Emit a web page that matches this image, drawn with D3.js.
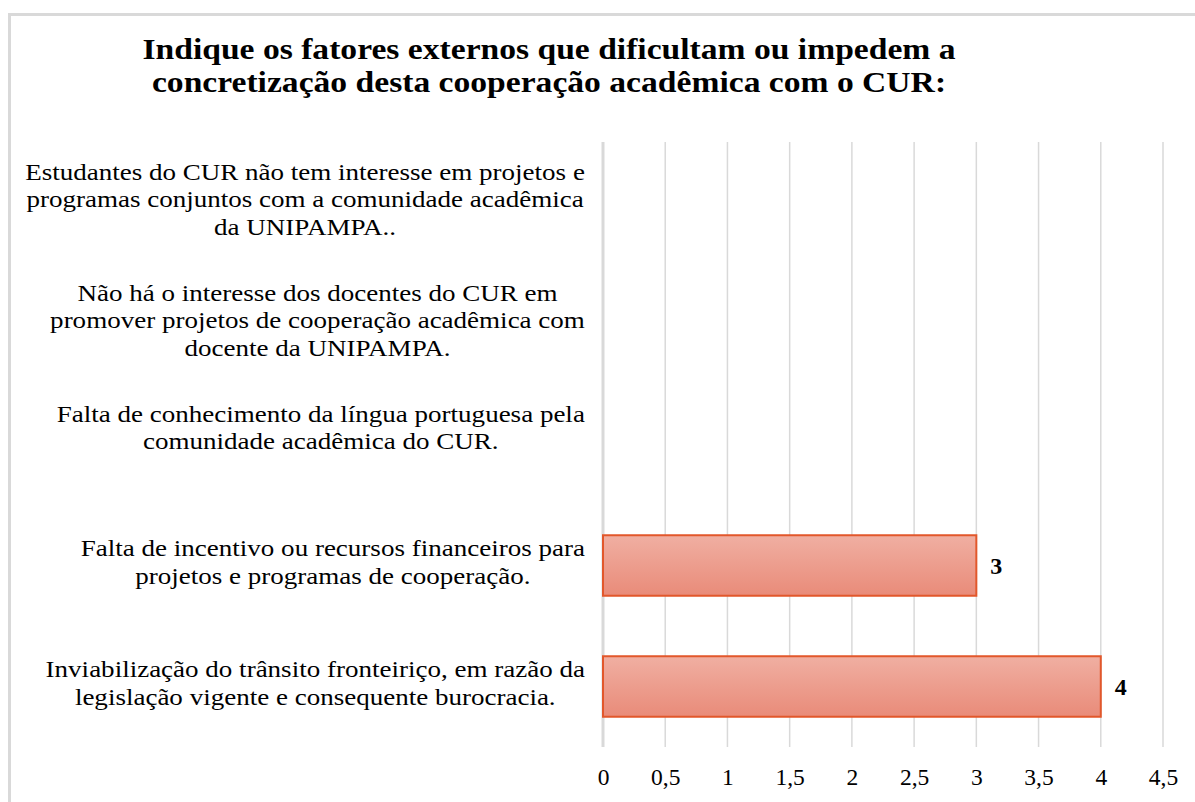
<!DOCTYPE html>
<html>
<head>
<meta charset="utf-8">
<script src="https://cdn.jsdelivr.net/npm/d3@7"></script>
<style>
  body { margin: 0; background: #fff; }
  svg { display: block; font-family: "Liberation Serif", "Times New Roman", serif; }
</style>
</head>
<body>
<div id="chart"></div>
<script>
// chart data
const titleLines = [
  'Indique os fatores externos que dificultam ou impedem a',
  'concretização desta cooperação acadêmica com o CUR:'
];
const categories = [
  ['Estudantes do CUR não tem interesse em projetos e', 'programas conjuntos com a comunidade acadêmica', 'da UNIPAMPA..'],
  ['Não há o interesse dos docentes do CUR em', 'promover projetos de cooperação acadêmica com', 'docente da UNIPAMPA.'],
  ['Falta de conhecimento da língua portuguesa pela', 'comunidade acadêmica do CUR.', ''],
  ['Falta de incentivo ou recursos financeiros para', 'projetos e programas de cooperação.'],
  ['Inviabilização do trânsito fronteiriço, em razão da', 'legislação vigente e consequente burocracia.']
];
const values = [null, null, null, 3, 4];
const xTicks = [0, 0.5, 1, 1.5, 2, 2.5, 3, 3.5, 4, 4.5];

const W = 1195, H = 802;
const plot = {left: 603, right: 1163, top: 142, bottom: 747};
const labelRight = 585;
const lineH = 27.5;
const labelStretch = 1.15;
const serif = '"Liberation Serif", "Times New Roman", serif';

const svg = d3.select('#chart').append('svg')
  .attr('width', W)
  .attr('height', H);

// outer frame (runs off the right and bottom)
svg.append('rect')
  .attr('x', 9.5).attr('y', 14.5)
  .attr('width', W + 20).attr('height', H + 20)
  .attr('fill', '#fff')
  .attr('stroke', '#d9d9d9')
  .attr('stroke-width', 3);

const defs = svg.append('defs');
const grad = defs.append('linearGradient')
  .attr('id', 'barGrad')
  .attr('x1', 0).attr('y1', 0).attr('x2', 0).attr('y2', 1);
grad.append('stop').attr('offset', '0%').attr('stop-color', '#f0afa2');
grad.append('stop').attr('offset', '100%').attr('stop-color', '#e98b79');

const ids = categories.map((c, i) => i);

const xScale = d3.scaleLinear()
  .domain([0, 4.5])
  .range([plot.left, plot.right]);

const yScale = d3.scaleBand()
  .domain(ids)
  .range([plot.top, plot.bottom])
  .paddingInner(0.5)
  .paddingOuter(0.25);

const fmt = d3.formatLocale({decimal: ',', thousands: '.', grouping: [3], currency: ['', '']}).format('~f');

// title (the original glyphs are a little wider than Liberation Serif)
svg.append('text')
  .attr('class', 'title')
  .attr('transform', 'translate(549,0) scale(1.12,1)')
  .attr('text-anchor', 'middle')
  .attr('font-weight', 'bold')
  .attr('font-size', 30)
  .selectAll('tspan')
  .data(titleLines)
  .join('tspan')
  .attr('x', 0)
  .attr('y', (d, i) => 59 + i * 33)
  .text(d => d);

// gridlines
svg.append('g')
  .attr('class', 'grid')
  .selectAll('line')
  .data(xTicks)
  .join('line')
  .attr('x1', d => xScale(d)).attr('x2', d => xScale(d))
  .attr('y1', plot.top).attr('y2', plot.bottom)
  .attr('stroke', '#d9d9d9')
  .attr('stroke-width', d => d === 0 ? 3 : 1.5);

// x axis labels
const xAxis = d3.axisBottom(xScale)
  .tickValues(xTicks)
  .tickSize(0)
  .tickPadding(0)
  .tickFormat(fmt);

svg.append('g')
  .attr('class', 'axis x')
  .attr('transform', `translate(0,${plot.bottom + 30})`)
  .call(xAxis)
  .call(g => g.select('.domain').remove())
  .call(g => g.selectAll('text')
    .attr('dy', '0.35em')
    .attr('fill', '#000')
    .attr('font-size', 23.5)
    .attr('font-family', serif));

// bars
const data = ids.map(i => ({id: i, value: values[i]})).filter(d => d.value != null);

svg.append('g')
  .attr('class', 'bars')
  .selectAll('rect')
  .data(data)
  .join('rect')
  .attr('x', xScale(0))
  .attr('y', d => yScale(d.id))
  .attr('width', d => xScale(d.value) - xScale(0))
  .attr('height', yScale.bandwidth())
  .attr('fill', 'url(#barGrad)')
  .attr('stroke', '#e2572b')
  .attr('stroke-width', 2);

// value labels
svg.append('g')
  .attr('class', 'values')
  .selectAll('text')
  .data(data)
  .join('text')
  .attr('x', d => xScale(d.value) + 14)
  .attr('y', d => yScale(d.id) + yScale.bandwidth() / 2)
  .attr('dy', '0.35em')
  .attr('font-weight', 'bold')
  .attr('font-size', 24)
  .text(d => d.value);

// category labels: block right-aligned at the axis, lines centred in the block
const catG = svg.append('g').attr('class', 'categories');
ids.forEach(i => {
  const lines = categories[i];
  const cy = yScale(i) + yScale.bandwidth() / 2 - 3;
  const t = catG.append('text')
    .attr('text-anchor', 'middle')
    .attr('font-size', 23.5);
  const spans = t.selectAll('tspan')
    .data(lines)
    .join('tspan')
    .attr('x', 0)
    .attr('y', (d, j) => cy + (j - (lines.length - 1) / 2) * lineH)
    .attr('dy', '0.33em')
    .text(d => d);
  let maxW = 0;
  spans.each(function() { maxW = Math.max(maxW, this.getComputedTextLength()); });
  t.attr('transform', `translate(${labelRight - maxW * labelStretch / 2},0) scale(${labelStretch},1)`);
});
</script>
</body>
</html>
